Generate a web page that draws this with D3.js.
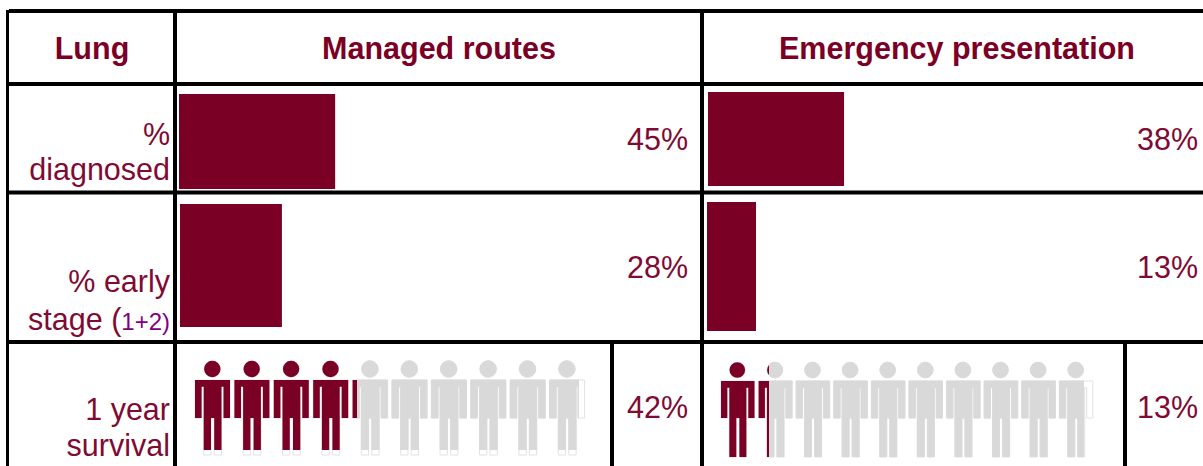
<!DOCTYPE html>
<html><head><meta charset="utf-8">
<script src="https://cdn.jsdelivr.net/npm/d3@7/dist/d3.min.js"></script>
<style>html,body{margin:0;padding:0;background:#fff;overflow:hidden}svg{display:block}
text{font-family:"Liberation Sans",Arial,sans-serif}</style></head><body>
<svg id="c" width="1203" height="466"></svg>
<script>
// ---- data ----
const headers = ["Lung", "Managed routes", "Emergency presentation"];
const metricLabels = [["%", "diagnosed"], ["% early", "stage ("], ["1 year", "survival"]];
const stageNote = "1+2)";
const managedBars = [45, 28];
const emergencyBars = [38, 13];
const managedSurvival = 42;
const emergencySurvival = 13;
const peopleCount = d3.range(10);

// ---- layout & style ----
const dark = "#7b0025", textCol = "#7f0a33", purple = "#800080", grey = "#d9d9d9";
const fs = 30.5;
const svg = d3.select("#c");
const barLayout = [
  {v: managedBars[0],   x: 179, full: 347, y: 94,  h: 95,  lx: 688, ly: 150},
  {v: managedBars[1],   x: 180, full: 364, y: 204, h: 123, lx: 688, ly: 278},
  {v: emergencyBars[0], x: 708, full: 358, y: 92,  h: 94,  lx: 1198, ly: 150},
  {v: emergencyBars[1], x: 707, full: 377, y: 202, h: 129, lx: 1198, ly: 278}
];
barLayout.forEach(b => {
  const sx = d3.scaleLinear().domain([0, 100]).range([b.x, b.x + b.full]);
  svg.append("rect").attr("x", sx(0)).attr("y", b.y).attr("width", sx(b.v) - sx(0)).attr("height", b.h).attr("fill", dark);
  svg.append("text").attr("x", b.lx).attr("y", b.ly).attr("text-anchor", "end").attr("font-size", fs).attr("fill", textCol).text(b.v + "%");
});

// ---- pictograms ----
function person(x, w, top, armBottom, foot, cx, headY, r) {
  const k = w / 35, X = d => x + d * k;
  const s = top + 6.7;
  const body = d3.path();
  body.moveTo(X(0), top); body.lineTo(X(35), top); body.lineTo(X(35), armBottom);
  body.lineTo(X(28.5), armBottom); body.lineTo(X(28.5), s); body.lineTo(X(26.5), s);
  body.lineTo(X(26.5), foot); body.lineTo(X(19.2), foot); body.lineTo(X(19.2), armBottom);
  body.lineTo(X(16), armBottom); body.lineTo(X(16), foot); body.lineTo(X(8.7), foot);
  body.lineTo(X(8.7), s); body.lineTo(X(6.6), s); body.lineTo(X(6.6), armBottom);
  body.lineTo(X(0), armBottom); body.closePath();
  body.moveTo(cx + r, headY); body.arc(cx, headY, r, 0, 2 * Math.PI);
  return body.toString();
}
const picto = [
  {id: "m", v: managedSurvival, x0: 195, step: 39.4, w: 35, top: 380, arm: 418, foot: 455, clipB: 450, hy: 369, r: 8.2, hd: 17.3,
   fillRange: [195, 581], greyEnd: 579, lx: 688, ly: 418},
  {id: "e", v: emergencySurvival, x0: 721, step: 37.6, w: 33.5, top: 381, arm: 418, foot: 457, clipB: 457, hy: 370, r: 7.8, hd: 16.3,
   fillRange: [721, 1090], greyEnd: 1084, lx: 1198, ly: 418}
];
const defs = svg.append("defs");
picto.forEach(p => {
  const px = d3.scaleLinear().domain([0, 1]).range([p.x0, p.x0 + p.step]);
  const fx = d3.scaleLinear().domain([0, 100]).range(p.fillRange);
  const cut = fx(p.v);
  defs.append("clipPath").attr("id", p.id + "d").append("rect").attr("x", p.x0 - 2).attr("y", 340).attr("width", cut - p.x0 + 2).attr("height", p.clipB - 340);
  defs.append("clipPath").attr("id", p.id + "g").append("rect").attr("x", cut).attr("y", 340).attr("width", p.greyEnd - cut).attr("height", p.clipB - 340);
  const d = i => person(px(i), p.w, p.top, p.arm, p.foot, px(i) + p.hd, p.hy, p.r);
  svg.append("g").selectAll("path").data(peopleCount).join("path").attr("d", d).attr("fill", "#fff").attr("stroke", "#e2e2e2").attr("stroke-width", 1);
  svg.append("g").attr("clip-path", `url(#${p.id}g)`).selectAll("path").data(peopleCount).join("path").attr("d", d).attr("fill", grey).attr("stroke", grey).attr("stroke-width", 0.8);
  svg.append("g").attr("clip-path", `url(#${p.id}d)`).selectAll("path").data(peopleCount).join("path").attr("d", d).attr("fill", dark);
  svg.append("text").attr("x", p.lx).attr("y", p.ly).attr("text-anchor", "end").attr("font-size", fs).attr("fill", textCol).text(p.v + "%");
});

// ---- text ----
const headerPos = [92, 439, 957];
headers.forEach((t, i) => svg.append("text").attr("x", headerPos[i]).attr("y", 58.5).attr("text-anchor", "middle")
  .attr("font-size", fs).attr("font-weight", "bold").attr("fill", dark).text(t));
const labelY = [[145, 180], [292, 330], [420, 456]];
metricLabels.forEach((lines, i) => lines.forEach((t, j) => {
  const el = svg.append("text").attr("x", 170).attr("y", labelY[i][j]).attr("text-anchor", "end").attr("font-size", fs).attr("fill", textCol);
  el.append("tspan").text(t);
  if (i === 1 && j === 1) el.append("tspan").attr("font-size", 24).attr("fill", purple).text(stageNote);
}));

// ---- grid ----
const lines = [
  [9, 11, 1203, 11, 4], [6, 84, 1203, 84, 4], [6, 192.5, 1203, 192.5, 4], [6, 342, 1203, 342, 4],
  [7.5, 10, 7.5, 466, 3], [175, 10, 175, 466, 4], [702, 10, 702, 466, 4], [612, 342, 612, 466, 4], [1125, 342, 1125, 466, 4]
];
svg.append("g").selectAll("line").data(lines).join("line")
  .attr("x1", d => d[0]).attr("y1", d => d[1]).attr("x2", d => d[2]).attr("y2", d => d[3])
  .attr("stroke", "#000").attr("stroke-width", d => d[4]);
</script></body></html>
